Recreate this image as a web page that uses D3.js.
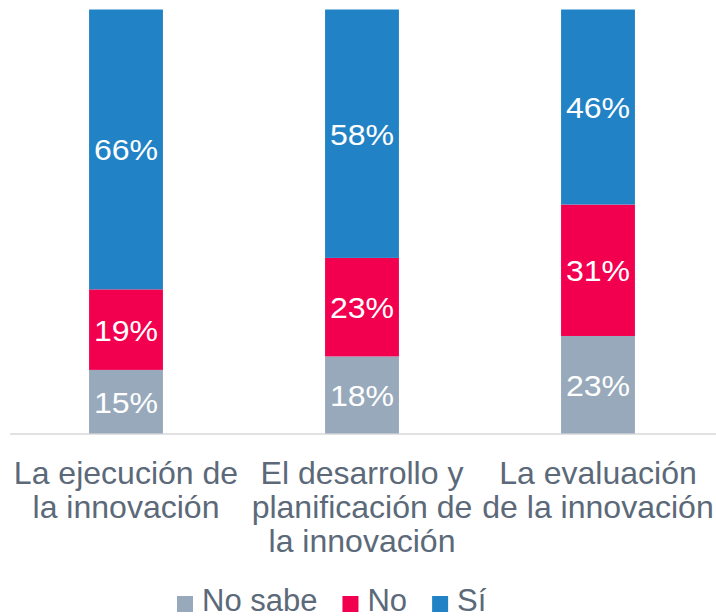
<!DOCTYPE html>
<html><head><meta charset="utf-8">
<script src="https://cdn.jsdelivr.net/npm/d3@7"></script>
<style>body{margin:0;background:#fff}svg{display:block}text{font-family:"Liberation Sans",Arial,sans-serif}</style>
</head><body>
<script>
const categories = [["La ejecución de","la innovación"],["El desarrollo y","planificación de","la innovación"],["La evaluación","de la innovación"]];
const seriesNames = ["No sabe","No","Sí"];
const noSabe = [15,18,23];
const no = [19,23,31];
const si = [66,58,46];
const colors = ["#97a9bb","#f2004f","#2183c6"];

const W=716,H=616;
const svg=d3.select("body").append("svg").attr("width",W).attr("height",H);
const x=d3.scaleBand().domain(d3.range(categories.length)).range([8,716]).paddingInner(0.687).paddingOuter(0.3435);
const y=d3.scaleLinear().domain([0,1]).range([433.5,9.5]);
const rows=categories.map((c,i)=>({i,"No sabe":noSabe[i],"No":no[i],"Sí":si[i]}));
const stack=d3.stack().keys(seriesNames).offset(d3.stackOffsetExpand)(rows);
const textCol="#5b6979";

svg.append("line").attr("x1",10).attr("x2",716).attr("y1",434).attr("y2",434).attr("stroke","#d9d9d9").attr("stroke-width",1.5);

const g=svg.selectAll("g.s").data(stack).join("g").attr("fill",(d,i)=>colors[i]);
g.selectAll("rect").data(d=>d).join("rect")
 .attr("x",d=>x(d.data.i)).attr("width",x.bandwidth())
 .attr("y",d=>y(d[1])).attr("height",d=>y(d[0])-y(d[1]));
g.selectAll("text").data(d=>d.map(v=>({v,key:d.key}))).join("text")
 .attr("transform",d=>`translate(${x(d.v.data.i)+x.bandwidth()/2},${(y(d.v[0])+y(d.v[1]))/2+11}) scale(1.07,1)`)
 .attr("text-anchor","middle").attr("fill","#fff").attr("font-size",30)
 .text(d=>d.v.data[d.key]+"%");

const ax=svg.append("g");
categories.forEach((lines,i)=>{
  lines.forEach((l,j)=>{
    ax.append("text").attr("transform",`translate(${x(i)+x.bandwidth()/2},${483.5+j*34}) scale(1.05,1)`)
      .attr("text-anchor","middle").attr("fill",textCol).attr("font-size",30.5).text(l);
  });
});

const leg=svg.append("g");
let lx=177;
seriesNames.forEach((n,i)=>{
  leg.append("rect").attr("x",lx).attr("y",596).attr("width",16).attr("height",16).attr("fill",colors[i]);
  const t=leg.append("text").attr("x",lx+25).attr("y",611).attr("fill",textCol).attr("font-size",31).text(n);
  lx+=25+t.node().getComputedTextLength()+25;
});
</script>
</body></html>
